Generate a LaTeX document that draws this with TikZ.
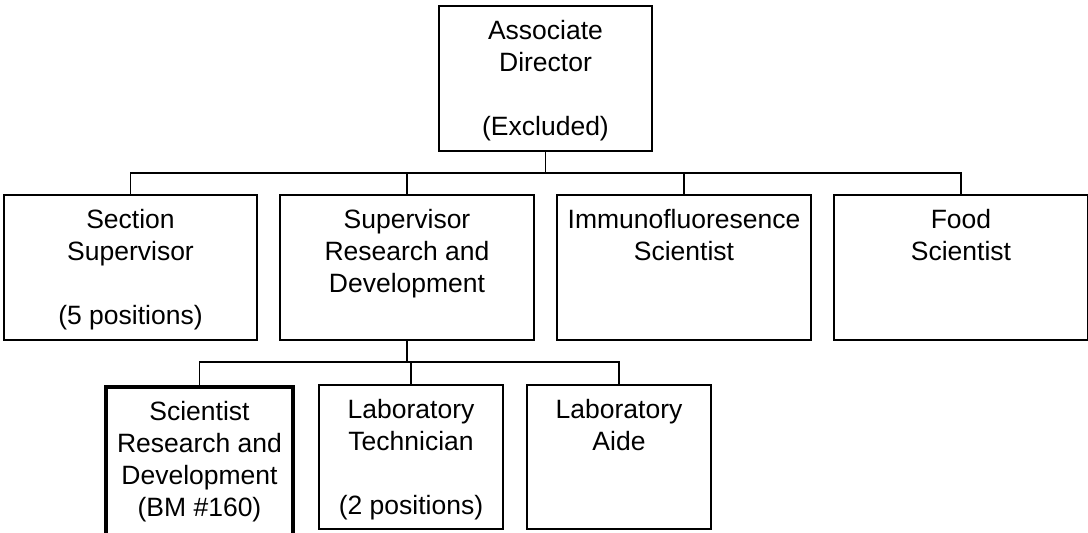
\documentclass[tikz,border=0pt]{standalone}
\usepackage{fontspec}
\setmainfont{Liberation Sans}
\newcommand\orgtext[3]{\parbox[t][#2][t]{#1}{\fontsize{26.5}{32}\selectfont\centering\rule{0pt}{33pt}#3\par}}
\tikzset{
  orgbox/.style={draw, line width=1.2pt, inner sep=0pt, outer sep=0pt, anchor=north west},
  keybox/.style={orgbox, line width=4.5pt},
  conn/.style={draw, line width=1.2pt}
}
\begin{document}
\begin{tikzpicture}[x=1pt,y=-1pt]
\useasboundingbox (0,0) rectangle (1088,533);
\begin{scope}
\clip (0,0) rectangle (1088,533);
\node[orgbox] (top) at (439,6) {\orgtext{213pt}{145pt}{Associate\\Director\\\mbox{}\\(Excluded)}};
\node[orgbox] (b1) at (4,195) {\orgtext{253pt}{145pt}{Section\\Supervisor\\\mbox{}\\(5 positions)}};
\node[orgbox] (b2) at (280,195) {\orgtext{254pt}{145pt}{Supervisor\\Research and\\Development}};
\node[orgbox] (b3) at (557,195) {\orgtext{254pt}{145pt}{Immunofluoresence\\Scientist}};
\node[orgbox] (b4) at (834,195) {\orgtext{254pt}{145pt}{Food\\Scientist}};
\node[keybox] (b5) at (106,387) {\orgtext{187pt}{152pt}{Scientist\\Research and\\Development\\(BM \#160)}};
\node[orgbox] (b6) at (319,385) {\orgtext{184pt}{144pt}{Laboratory\\Technician\\\mbox{}\\(2 positions)}};
\node[orgbox] (b7) at (527,385) {\orgtext{184pt}{144pt}{Laboratory\\Aide}};
\coordinate (j1) at (546,173);
\coordinate (j2) at (407,362);
\draw[conn] (top.south) -- (top.south |- j1);
\draw[conn] (b1.north) -- (b1.north |- j1) -- (b4.north |- j1) -- (b4.north);
\draw[conn] (b2.north) -- (b2.north |- j1);
\draw[conn] (b3.north) -- (b3.north |- j1);
\draw[conn] (b2.south) -- (b2.south |- j2);
\draw[conn] (b5.north) -- (b5.north |- j2) -- (b7.north |- j2) -- (b7.north);
\draw[conn] (b6.north) -- (b6.north |- j2);
\end{scope}
\end{tikzpicture}
\end{document}
